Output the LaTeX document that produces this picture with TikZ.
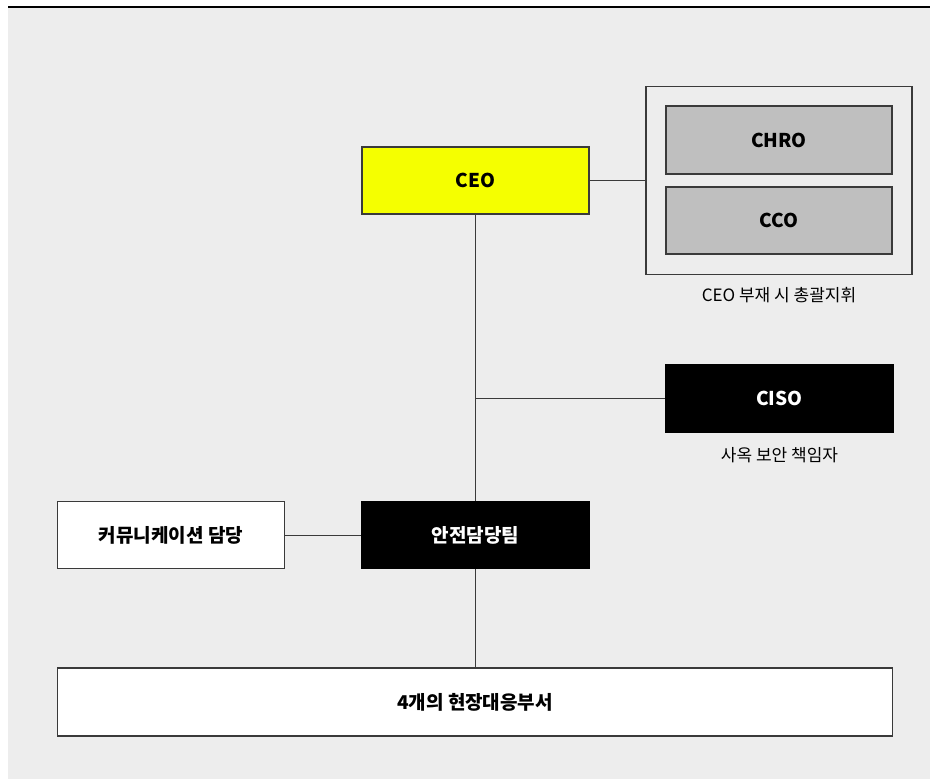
\documentclass[tikz,border=0pt]{standalone}
\usepackage{fontspec}
\setmainfont{Noto Sans CJK KR}
\definecolor{bggray}{HTML}{EDEDED}
\definecolor{ceoyellow}{HTML}{F5FF00}
\definecolor{boxgray}{HTML}{BFBFBF}
\definecolor{edge}{HTML}{3A3A3A}
\begin{document}
\begin{tikzpicture}[x=1pt,y=-1pt,
  box/.style={draw=edge, line width=1.4pt, minimum width=227pt, minimum height=67pt, inner sep=0pt, font=\fontsize{19}{22}\selectfont\bfseries},
  whitebox/.style={box, fill=white, text=black},
  blackbox/.style={box, fill=black, text=white, draw=black},
  graybox/.style={box, fill=boxgray, minimum width=226pt, minimum height=67pt},
  note/.style={font=\fontsize{17}{20}\selectfont, text=black, inner sep=0pt},
  link/.style={draw=edge, line width=1pt}]
\useasboundingbox (0,0) rectangle (930,779);
\fill[bggray] (8,7) rectangle (930,779);
\draw[black, line width=2pt] (8,6.5) -- (930,6.5);

\node[box, fill=ceoyellow] (ceo) at (475.5,180.5) {CEO};
\node[draw=edge, line width=1.4pt, fill=bggray, minimum width=266pt, minimum height=188pt, inner sep=0pt] (grp) at (779,180.5) {};
\node[graybox, minimum height=68pt] (chro) at (779,140) {CHRO};
\node[graybox] (cco) at (779,220.5) {CCO};
\node[note] (grplabel) at (779,295) {CEO 부재 시 총괄지휘};

\node[blackbox] (ciso) at (779.5,398.5) {CISO};
\node[note] (cisolabel) at (779.5,455) {사옥 보안 책임자};

\node[whitebox] (comm) at (171,535) {커뮤니케이션 담당};
\node[blackbox] (safety) at (475.5,535) {안전담당팀};

\node[whitebox, minimum width=835pt, minimum height=68pt] (field) at (475,702) {4개의 현장대응부서};

\coordinate (j) at (475.5,398.5);

\draw[link] (ceo.east) -- (grp.west);
\draw[link] (ceo.south) -- (safety.north);
\draw[link] (j) -- (ciso.west);
\draw[link] (comm.east) -- (safety.west);
\draw[link] (safety.south) -- (field.north -| safety.south);
\end{tikzpicture}
\end{document}
